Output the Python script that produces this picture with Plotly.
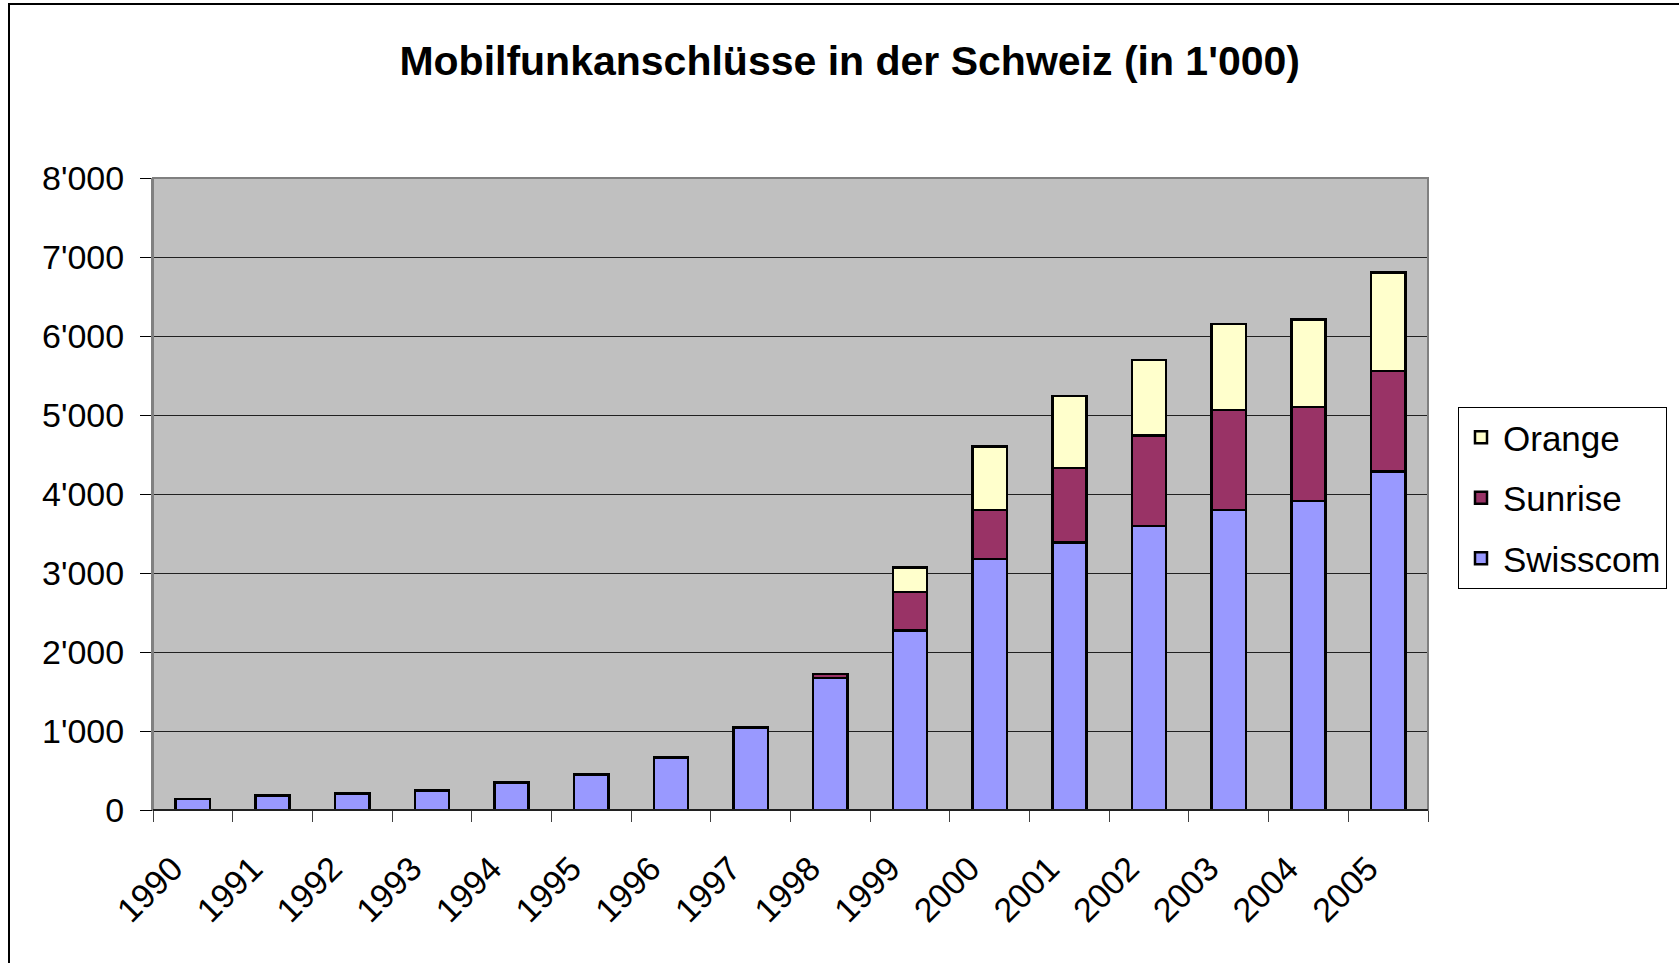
import plotly.graph_objects as go

years = [str(y) for y in range(1990, 2006)]
swisscom = [139, 181, 211, 245, 350, 452, 662, 1047, 1670, 2270, 3175, 3385, 3593, 3800, 3910, 4285]
sunrise = [None, None, None, None, None, None, None, None, 50, 490, 625, 942, 1147, 1262, 1190, 1270]
orange = [None, None, None, None, None, None, None, None, None, 310, 801, 913, 955, 1093, 1110, 1250]
y_ticks = [0, 1000, 2000, 3000, 4000, 5000, 6000, 7000, 8000]
x_labels = [y + "\u00a0" * 3 for y in years]

FONT = "Liberation Sans, Arial, sans-serif"
W, H = 1679, 963
L, R, T, B = 153, 251, 178, 153
pw, ph = W - L - R, H - T - B

fig = go.Figure()
for name, vals, col, rank in [("Swisscom", swisscom, "#9999FF", 3),
                              ("Sunrise", sunrise, "#993366", 2),
                              ("Orange", orange, "#FFFFCC", 1)]:
    fig.add_trace(go.Bar(x=years, y=vals, name=name, legendgroup=name, legendrank=rank,
                         marker=dict(color=col, line=dict(color="black", width=2.5))))

def px2paper_x(px):
    return (px - L) / pw

def px2paper_y(py):
    return (H - B - py) / ph

fig.update_layout(
    width=W, height=H,
    margin=dict(l=L, r=R, t=T, b=B, autoexpand=False),
    barmode="stack", bargap=0.57,
    paper_bgcolor="white", plot_bgcolor="#C0C0C0",
    separators=".'",
    font=dict(family=FONT, color="black", size=34),
    title=dict(text="<b>Mobilfunkanschlüsse in der Schweiz (in 1'000)</b>",
               font=dict(family=FONT, size=41, color="black"),
               x=849.7 / W, xanchor="center", xref="container",
               y=1 - 61 / H, yanchor="middle", yref="container"),
    legend=dict(x=px2paper_x(1458), xanchor="left", y=px2paper_y(407), yanchor="top",
                traceorder="grouped", tracegroupgap=12, itemwidth=34,
                bgcolor="white", bordercolor="black", borderwidth=1,
                font=dict(family=FONT, size=35, color="black")),
    xaxis=dict(type="category", showgrid=False, showline=True, linecolor="black", linewidth=1,
               ticks="outside", tickson="boundaries", ticklen=11, tickcolor="#404040", tickwidth=1,
               tickangle=-45, ticklabelstandoff=4,
               tickvals=years, ticktext=x_labels,
               tickfont=dict(family=FONT, size=34, color="black")),
    yaxis=dict(range=[0, 8000], tickvals=y_ticks, tickformat=",",
               showgrid=True, gridcolor="#202020", gridwidth=1,
               showline=True, linecolor="#808080", linewidth=2,
               ticks="outside", ticklen=11, tickcolor="black", tickwidth=1,
               ticklabelstandoff=9, zeroline=False,
               tickfont=dict(family=FONT, size=34, color="black")),
    shapes=[
        dict(type="rect", xref="paper", yref="paper", x0=0, x1=1, y0=0, y1=1,
             line=dict(color="#808080", width=2), fillcolor="rgba(0,0,0,0)", layer="above"),
        dict(type="line", xref="paper", yref="paper", x0=0, x1=1, y0=0, y1=0,
             line=dict(color="black", width=1.5), layer="above"),
        dict(type="rect", xref="paper", yref="paper",
             x0=px2paper_x(9), x1=px2paper_x(W + 20), y0=px2paper_y(H + 20), y1=px2paper_y(4),
             line=dict(color="black", width=2), fillcolor="rgba(0,0,0,0)", layer="above"),
    ],
)

fig.write_html("out.html", config={"displayModeBar": False},
               post_script="document.body.style.margin='0';document.body.style.padding='0';")
